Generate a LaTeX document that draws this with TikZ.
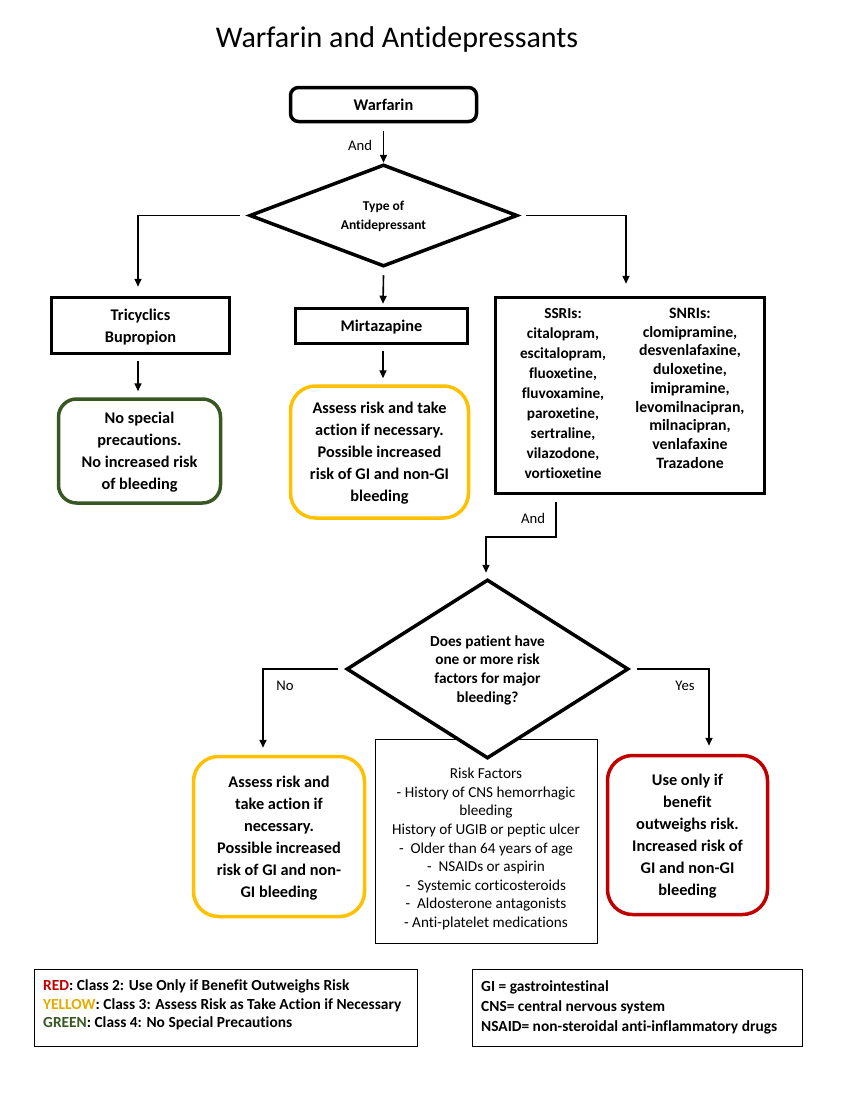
\documentclass[tikz,border=0pt]{standalone}
\usepackage{fontspec}
\setmainfont{Carlito}[Ligatures=NoCommon]
\usetikzlibrary{shapes.geometric,arrows.meta}
\definecolor{cred}{RGB}{192,0,0}
\definecolor{cyel}{RGB}{255,192,0}
\definecolor{cyeltxt}{RGB}{228,172,0}
\definecolor{cgreen}{RGB}{56,87,35}
\begin{document}
\begin{tikzpicture}[x=1pt,y=-1pt,
  bodyfont/.style={font=\bfseries\fontsize{16.3}{22}\selectfont},
  thickbox/.style={draw, line width=3.5pt, inner sep=0pt, align=center, bodyfont, text depth=-1pt},
  outcome/.style={draw, line width=3.5pt, rounded corners=22pt, inner sep=0pt, align=center, bodyfont, text depth=-1pt},
  decision/.style={draw, diamond, line width=3.5pt, fill=white, inner sep=0pt, align=center, text depth=-1pt},
  conn/.style={line width=1.6pt, -{Triangle[length=8pt,width=7pt]}},
  lbl/.style={font=\fontsize{14.7}{16}\selectfont, inner sep=0pt},
  legend/.style={draw, line width=0.8pt, inner sep=0pt, minimum width=#1, minimum height=77pt},
  legtxt/.style={font=\bfseries\fontsize{15.4}{18.5}\selectfont, align=left, inner sep=0pt, anchor=west}
]
\useasboundingbox (0,0) rectangle (850,1100);

% title
\node[font=\fontsize{30}{34}\selectfont, inner sep=0pt] (title) at (397,40) {Warfarin and Antidepressants};

% risk factors box (behind diamond)
\node[draw, line width=0.8pt, minimum width=222pt, minimum height=204pt, inner sep=0pt] (risk) at (486,841) {};
\node[font=\fontsize{15.2}{18.6}\selectfont, align=center, inner sep=0pt, anchor=north] (risktxt) at (486,768) {Risk Factors\\- History of CNS hemorrhagic\\bleeding\\History of UGIB or peptic ulcer\\-\ \ Older than 64 years of age\\-\ \ NSAIDs or aspirin\\-\ \ Systemic corticosteroids\\-\ \ Aldosterone antagonists\\- Anti-platelet medications};

% top
\node[thickbox, rounded corners=8pt, minimum width=186pt, minimum height=34pt] (warf) at (383.5,104.5) {Warfarin};
\node[decision, aspect=2.58, minimum width=268pt, minimum height=102pt, font=\bfseries\fontsize{13.5}{19}\selectfont] (d1) at (383.5,215.5) {Type of\\Antidepressant};

\node[thickbox, minimum width=178pt, minimum height=56pt] (tri) at (140.5,325.5) {Tricyclics\\Bupropion};
\node[thickbox, minimum width=172pt, minimum height=35pt] (mirt) at (381.5,326) {Mirtazapine};
\node[thickbox, minimum width=269pt, minimum height=196pt] (ssri) at (630,395.5) {};
\node[font=\bfseries\fontsize{15.3}{20}\selectfont, align=center, inner sep=0pt, anchor=north] (ssritxt) at (563,308) {SSRIs:\\citalopram,\\escitalopram,\\fluoxetine,\\fluvoxamine,\\paroxetine,\\sertraline,\\vilazodone,\\vortioxetine};
\node[font=\bfseries\fontsize{15.8}{18.7}\selectfont, align=center, inner sep=0pt, anchor=north] (snritxt) at (690,308) {SNRIs:\\clomipramine,\\desvenlafaxine,\\duloxetine,\\imipramine,\\levomilnacipran,\\milnacipran,\\venlafaxine\\Trazadone};

\node[outcome, draw=cgreen, rounded corners=18pt, minimum width=162pt, minimum height=104pt] (green) at (139.5,451) {No special\\precautions.\\No increased risk\\of bleeding};
\node[outcome, draw=cyel, rounded corners=25pt, minimum width=178pt, minimum height=132pt] (yel1) at (379.5,452) {Assess risk and take\\action if necessary.\\Possible increased\\risk of GI and non-GI\\bleeding};

% second decision
\node[decision, aspect=1.566, minimum width=282pt, minimum height=179pt, font=\bfseries\fontsize{15.3}{18.8}\selectfont] (d2) at (487.5,669) {Does patient have\\one or more risk\\factors for major\\bleeding?};

\node[outcome, draw=cyel, rounded corners=25pt, minimum width=171pt, minimum height=160pt] (yel2) at (279,836.5) {Assess risk and\\take action if\\necessary.\\Possible increased\\risk of GI and non-\\GI bleeding};
\node[outcome, draw=cred, rounded corners=25pt, minimum width=160pt, minimum height=159pt] (red) at (687.5,835) {Use only if\\benefit\\outweighs risk.\\Increased risk of\\GI and non-GI\\bleeding};

% connectors
\draw[conn] ([yshift=-8pt]warf.south) -- (d1.north);
\node[lbl] (and1) at (360,145) {And};
\coordinate (l1) at ([xshift=-8pt]d1.west);
\draw[conn] (l1) -| ([xshift=-2.5pt,yshift=9pt]tri.north);
\draw[conn] ([yshift=-7pt]d1.south) -- ([xshift=1.5pt,yshift=3pt]mirt.north);
\coordinate (r1) at ([xshift=7pt]d1.east);
\draw[conn] (r1) -| ([xshift=-4pt,yshift=12pt]ssri.north);
\draw[conn] ([xshift=-2.5pt,yshift=-6pt]tri.south) -- ([xshift=-1.5pt,yshift=6pt]green.north);
\draw[conn] ([xshift=1.5pt,yshift=-6pt]mirt.south) -- ([xshift=3.5pt,yshift=6pt]yel1.north);
\coordinate (s1) at ([xshift=-74pt,yshift=-7pt]ssri.south);
\coordinate (s2) at (486,537);
\draw[conn] (s1) |- (s2) -- ([xshift=-1.5pt,yshift=5pt]d2.north);
\node[lbl] (and2) at (533,518) {And};
\coordinate (l2) at ([xshift=-7pt]d2.west);
\draw[conn] (l2) -| ([xshift=-16pt,yshift=7pt]yel2.north);
\node[lbl] (no) at (285,686) {No};
\coordinate (r2) at ([xshift=7pt]d2.east);
\draw[conn] (r2) -| ([xshift=21.5pt,yshift=8pt]red.north);
\node[lbl] (yes) at (685,686) {Yes};

% legends
\node[legend=383pt] (leg1) at (225.5,1007.5) {};
\node[legtxt] (leg1t) at (43,1005) {\textcolor{cred}{RED}: Class 2: Use Only if Benefit Outweighs Risk\\\textcolor{cyeltxt}{YELLOW}: Class 3: Assess Risk as Take Action if Necessary\\\textcolor{cgreen}{GREEN}: Class 4: No Special Precautions};
\node[legend=330pt] (leg2) at (637,1007.5) {};
\node[legtxt, font=\bfseries\fontsize{15.4}{20}\selectfont] (leg2t) at (481,1007) {GI = gastrointestinal\\CNS= central nervous system\\NSAID= non-steroidal anti-inflammatory drugs};
\end{tikzpicture}
\end{document}
